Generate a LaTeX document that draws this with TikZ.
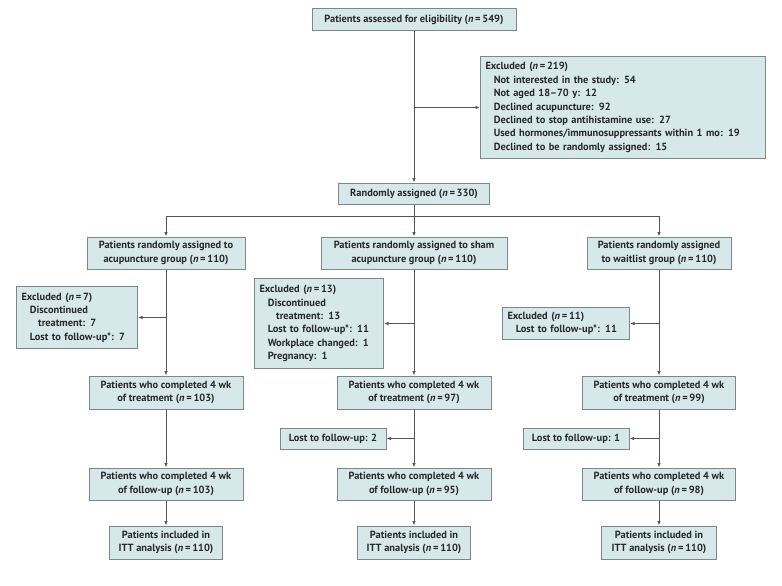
\documentclass[tikz,border=0pt]{standalone}
\usepackage{fontspec}
\setmainfont{PT Sans}
\usepackage{tikz}
\usetikzlibrary{arrows.meta,positioning}
\definecolor{boxfill}{RGB}{214,232,233}
\definecolor{boxline}{RGB}{125,135,135}
\definecolor{edgegray}{RGB}{85,85,85}
\definecolor{textgray}{RGB}{40,40,40}

\begin{document}
\begin{tikzpicture}[
    x=1pt, y=-1pt,
    mybox/.style={draw=boxline, fill=boxfill, line width=1pt, align=center, inner sep=2pt, text=textgray, font=\fontsize{10.4}{13.4}\selectfont\bfseries},
    myleft/.style={mybox, align=left, anchor=north west, inner xsep=5pt, inner ysep=3pt},
    myedge/.style={draw=edgegray, line width=0.9pt},
    myarrow/.style={myedge, -{Latex[length=4.5pt,width=3.5pt]}}
]
\useasboundingbox (0,0) rectangle (782,586);

% enrollment
\node[mybox, minimum width=204pt, minimum height=22pt] (assess) at (414,20) {Patients assessed for eligibility (\textit{n}\,=\,549)};
\node[myleft, text width=275pt, minimum height=102pt] (excl) at (480,56) {Excluded (\textit{n}\,=\,219)\\
\hspace*{0.8em}Not interested in the study: 54\\
\hspace*{0.8em}Not aged 18--70 y: 12\\
\hspace*{0.8em}Declined acupuncture: 92\\
\hspace*{0.8em}Declined to stop antihistamine use: 27\\
\hspace*{0.8em}Used hormones/immunosuppressants within 1 mo: 19\\
\hspace*{0.8em}Declined to be randomly assigned: 15};
\node[mybox, minimum width=151pt, minimum height=21pt] (rand) at (414,193.5) {Randomly assigned (\textit{n}\,=\,330)};
\coordinate (split) at (414,216);

% allocation
\node[mybox, minimum width=158pt, minimum height=32pt] (g1) at (166,253) {Patients randomly assigned to\\acupuncture group (\textit{n}\,=\,110)};
\node[mybox, minimum width=186pt, minimum height=32pt] (g2) at (414,253) {Patients randomly assigned to sham\\acupuncture group (\textit{n}\,=\,110)};
\node[mybox, minimum width=144pt, minimum height=32pt] (g3) at (659,253) {Patients randomly assigned\\to waitlist group (\textit{n}\,=\,110)};

\node[myleft, text width=111pt, minimum height=62pt] (e1) at (16,286) {Excluded (\textit{n}\,=\,7)\\
\hspace*{0.8em}Discontinued\\
\hspace*{1.6em}treatment: 7\\
\hspace*{0.8em}Lost to follow-up*: 7};
\node[myleft, text width=119pt, minimum height=90pt] (e2) at (254,278) {Excluded (\textit{n}\,=\,13)\\
\hspace*{0.8em}Discontinued\\
\hspace*{1.6em}treatment: 13\\
\hspace*{0.8em}Lost to follow-up*: 11\\
\hspace*{0.8em}Workplace changed: 1\\
\hspace*{0.8em}Pregnancy: 1};
\node[myleft, text width=117pt, minimum height=32pt] (e3) at (502,307) {Excluded (\textit{n}\,=\,11)\\
\hspace*{0.8em}Lost to follow-up*: 11};

% treatment
\node[mybox, minimum width=154pt, minimum height=33pt] (t1) at (166,392.5) {Patients who completed 4 wk\\of treatment (\textit{n}\,=\,103)};
\node[mybox, minimum width=154pt, minimum height=33pt] (t2) at (414,392.5) {Patients who completed 4 wk\\of treatment (\textit{n}\,=\,97)};
\node[mybox, minimum width=153pt, minimum height=33pt] (t3) at (659,392.5) {Patients who completed 4 wk\\of treatment (\textit{n}\,=\,99)};

\node[mybox, minimum width=106pt, minimum height=21pt] (l2) at (333,438.5) {Lost to follow-up: 2};
\node[mybox, minimum width=106pt, minimum height=21pt] (l3) at (576,438.5) {Lost to follow-up: 1};

% follow-up
\node[mybox, minimum width=154pt, minimum height=32pt] (f1) at (166,484) {Patients who completed 4 wk\\of follow-up (\textit{n}\,=\,103)};
\node[mybox, minimum width=154pt, minimum height=32pt] (f2) at (414,484) {Patients who completed 4 wk\\of follow-up (\textit{n}\,=\,95)};
\node[mybox, minimum width=153pt, minimum height=32pt] (f3) at (659,484) {Patients who completed 4 wk\\of follow-up (\textit{n}\,=\,98)};

% analysis
\node[mybox, minimum width=113pt, minimum height=33pt] (i1) at (166,542.5) {Patients included in\\ITT analysis (\textit{n}\,=\,110)};
\node[mybox, minimum width=113pt, minimum height=33pt] (i2) at (414,542.5) {Patients included in\\ITT analysis (\textit{n}\,=\,110)};
\node[mybox, minimum width=115pt, minimum height=33pt] (i3) at (659,542.5) {Patients included in\\ITT analysis (\textit{n}\,=\,110)};

\draw[myarrow] (assess) -- (rand);
\draw[myarrow] (assess.south |- excl.west) -- (excl.west);
\draw[myarrow] (rand) -- (g2);
\draw[myarrow] (split) -| (g1);
\draw[myarrow] (split) -| (g3);

\foreach \c in {1,2,3} {
    \draw[myarrow] (g\c) -- (t\c);
    \draw[myarrow] (g\c.south |- e\c.east) -- (e\c.east);
    \draw[myarrow] (t\c) -- (f\c);
    \draw[myarrow] (f\c) -- (i\c);
}
\foreach \c in {2,3} {
    \draw[myarrow] (t\c.south |- l\c.east) -- (l\c.east);
}
\end{tikzpicture}
\end{document}
